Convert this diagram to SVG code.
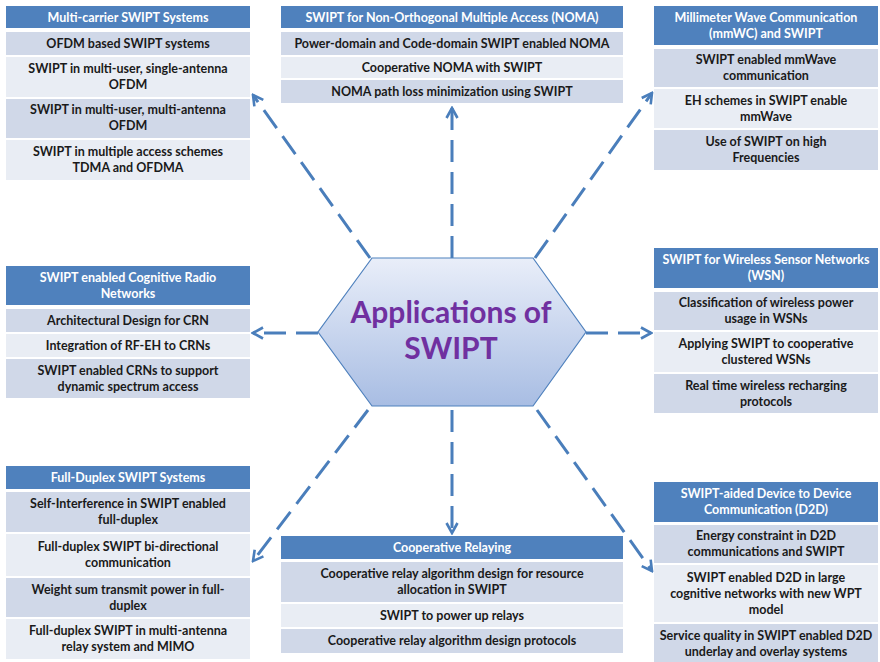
<svg xmlns="http://www.w3.org/2000/svg" width="880" height="662" viewBox="0 0 880 662">
<defs>
<linearGradient id="hexg" x1="0" y1="0" x2="0" y2="1">
<stop offset="0" stop-color="#e9eef9"/>
<stop offset="1" stop-color="#a8bde3"/>
</linearGradient>
<marker id="arr" viewBox="0 0 14 14" refX="12" refY="7" markerWidth="14" markerHeight="14" markerUnits="userSpaceOnUse" orient="auto">
<path d="M2,1.5 L12,7 L2,12.5" fill="none" stroke="#4a7ebb" stroke-width="2.6" stroke-linejoin="miter"/>
</marker>
</defs>
<style>
.hd{fill:#4f81bd}
.dk{fill:#d0d8e8}
.lt{fill:#e9edf4}
.ht{font-family:Lato,"Open Sans","Liberation Sans",sans-serif;font-weight:bold;font-size:12.5px;fill:#ffffff;text-anchor:middle}
.rt{font-family:Lato,"Open Sans","Liberation Sans",sans-serif;font-weight:bold;font-size:12.5px;fill:#1a1a1a;text-anchor:middle}
.con{fill:none;stroke:#4a7ebb;stroke-width:3;stroke-dasharray:22 10;marker-end:url(#arr)}
.ttl{font-family:Lato,"Open Sans","Liberation Sans",sans-serif;font-weight:bold;font-size:30px;fill:#7030a0;text-anchor:middle}
</style>
<rect width="880" height="662" fill="#ffffff"/>

<g id="connectors">
<line class="con" x1="370" y1="258" x2="253" y2="95"/>
<line class="con" x1="452" y1="258" x2="452" y2="108"/>
<line class="con" x1="535" y1="258" x2="652" y2="93"/>
<line class="con" x1="318" y1="333" x2="253" y2="333"/>
<line class="con" x1="586" y1="333" x2="651" y2="333"/>
<line class="con" x1="368" y1="410" x2="253" y2="561"/>
<line class="con" x1="452" y1="410" x2="452" y2="533"/>
<line class="con" x1="537" y1="410" x2="652" y2="571"/>
</g>

<g id="center">
<polygon points="372,258 533,258 586,332 533,406 372,406 318,332" fill="url(#hexg)" stroke="#4f81bd" stroke-width="1.2"/>
<text class="ttl" x="451" y="323">Applications of</text>
<text class="ttl" x="451" y="359">SWIPT</text>
</g>

<g id="multicarrier">
<rect class="hd" x="6" y="6" width="244" height="22"/>
<text class="ht" x="128" y="22">Multi-carrier SWIPT Systems</text>
<rect class="dk" x="6" y="32" width="244" height="23"/>
<text class="rt" x="128" y="48">OFDM based SWIPT systems</text>
<rect class="lt" x="6" y="57" width="244" height="40"/>
<text class="rt" x="128" y="73">SWIPT in multi-user, single-antenna</text>
<text class="rt" x="128" y="89">OFDM</text>
<rect class="dk" x="6" y="99" width="244" height="39"/>
<text class="rt" x="128" y="114">SWIPT in multi-user, multi-antenna</text>
<text class="rt" x="128" y="130">OFDM</text>
<rect class="lt" x="6" y="140" width="244" height="40"/>
<text class="rt" x="128" y="156">SWIPT in multiple access schemes</text>
<text class="rt" x="128" y="172">TDMA and OFDMA</text>
</g>

<g id="noma">
<rect class="hd" x="281" y="6" width="342" height="22"/>
<text class="ht" x="452" y="22">SWIPT for Non-Orthogonal Multiple Access (NOMA)</text>
<rect class="dk" x="281" y="32" width="342" height="23"/>
<text class="rt" x="452" y="48">Power-domain and Code-domain SWIPT enabled NOMA</text>
<rect class="lt" x="281" y="57" width="342" height="21"/>
<text class="rt" x="452" y="72">Cooperative NOMA with SWIPT</text>
<rect class="dk" x="281" y="80" width="342" height="23"/>
<text class="rt" x="452" y="96">NOMA path loss minimization using SWIPT</text>
</g>

<g id="mmwave">
<rect class="hd" x="654" y="6" width="224" height="39"/>
<text class="ht" x="766" y="22">Millimeter Wave Communication</text>
<text class="ht" x="766" y="38">(mmWC) and SWIPT</text>
<rect class="dk" x="654" y="49" width="224" height="38"/>
<text class="rt" x="766" y="64">SWIPT enabled mmWave</text>
<text class="rt" x="766" y="80">communication</text>
<rect class="lt" x="654" y="89" width="224" height="39"/>
<text class="rt" x="766" y="105">EH schemes in SWIPT enable</text>
<text class="rt" x="766" y="121">mmWave</text>
<rect class="dk" x="654" y="130" width="224" height="40"/>
<text class="rt" x="766" y="146">Use of SWIPT on high</text>
<text class="rt" x="766" y="162">Frequencies</text>
</g>

<g id="crn">
<rect class="hd" x="6" y="266" width="244" height="39"/>
<text class="ht" x="128" y="282">SWIPT enabled Cognitive Radio</text>
<text class="ht" x="128" y="298">Networks</text>
<rect class="dk" x="6" y="309" width="244" height="23"/>
<text class="rt" x="128" y="325">Architectural Design for CRN</text>
<rect class="lt" x="6" y="334" width="244" height="23"/>
<text class="rt" x="128" y="350">Integration of RF-EH to CRNs</text>
<rect class="dk" x="6" y="359" width="244" height="39"/>
<text class="rt" x="128" y="375">SWIPT enabled CRNs to support</text>
<text class="rt" x="128" y="391">dynamic spectrum access</text>
</g>

<g id="wsn">
<rect class="hd" x="654" y="248" width="224" height="40"/>
<text class="ht" x="766" y="264">SWIPT for Wireless Sensor Networks</text>
<text class="ht" x="766" y="280">(WSN)</text>
<rect class="dk" x="654" y="292" width="224" height="38"/>
<text class="rt" x="766" y="307">Classification of wireless power</text>
<text class="rt" x="766" y="323">usage in WSNs</text>
<rect class="lt" x="654" y="332" width="224" height="40"/>
<text class="rt" x="766" y="348">Applying SWIPT to cooperative</text>
<text class="rt" x="766" y="364">clustered WSNs</text>
<rect class="dk" x="654" y="374" width="224" height="39"/>
<text class="rt" x="766" y="390">Real time wireless recharging</text>
<text class="rt" x="766" y="406">protocols</text>
</g>

<g id="fullduplex">
<rect class="hd" x="6" y="466" width="244" height="23"/>
<text class="ht" x="128" y="482">Full-Duplex SWIPT Systems</text>
<rect class="dk" x="6" y="492" width="244" height="40"/>
<text class="rt" x="128" y="508">Self-Interference in SWIPT enabled</text>
<text class="rt" x="128" y="524">full-duplex</text>
<rect class="lt" x="6" y="534" width="244" height="42"/>
<text class="rt" x="128" y="551">Full-duplex SWIPT bi-directional</text>
<text class="rt" x="128" y="567">communication</text>
<rect class="dk" x="6" y="578" width="244" height="39"/>
<text class="rt" x="128" y="594">Weight sum transmit power in full-</text>
<text class="rt" x="128" y="610">duplex</text>
<rect class="lt" x="6" y="619" width="244" height="40"/>
<text class="rt" x="128" y="635">Full-duplex SWIPT in multi-antenna</text>
<text class="rt" x="128" y="651">relay system and MIMO</text>
</g>

<g id="relaying">
<rect class="hd" x="281" y="536" width="342" height="23"/>
<text class="ht" x="452" y="552">Cooperative Relaying</text>
<rect class="dk" x="281" y="562" width="342" height="40"/>
<text class="rt" x="452" y="578">Cooperative relay algorithm design for resource</text>
<text class="rt" x="452" y="594">allocation in SWIPT</text>
<rect class="lt" x="281" y="604" width="342" height="23"/>
<text class="rt" x="452" y="620">SWIPT to power up relays</text>
<rect class="dk" x="281" y="629" width="342" height="24"/>
<text class="rt" x="452" y="645">Cooperative relay algorithm design protocols</text>
</g>

<g id="d2d">
<rect class="hd" x="654" y="482" width="224" height="40"/>
<text class="ht" x="766" y="498">SWIPT-aided Device to Device</text>
<text class="ht" x="766" y="514">Communication (D2D)</text>
<rect class="dk" x="654" y="525" width="224" height="38"/>
<text class="rt" x="766" y="540">Energy constraint in D2D</text>
<text class="rt" x="766" y="556">communications and SWIPT</text>
<rect class="lt" x="654" y="565" width="224" height="57"/>
<text class="rt" x="766" y="582">SWIPT enabled D2D in large</text>
<text class="rt" x="766" y="598">cognitive networks with new WPT</text>
<text class="rt" x="766" y="614">model</text>
<rect class="dk" x="654" y="624" width="224" height="38"/>
<text class="rt" x="766" y="640">Service quality in SWIPT enabled D2D</text>
<text class="rt" x="766" y="656">underlay and overlay systems</text>
</g>
</svg>
